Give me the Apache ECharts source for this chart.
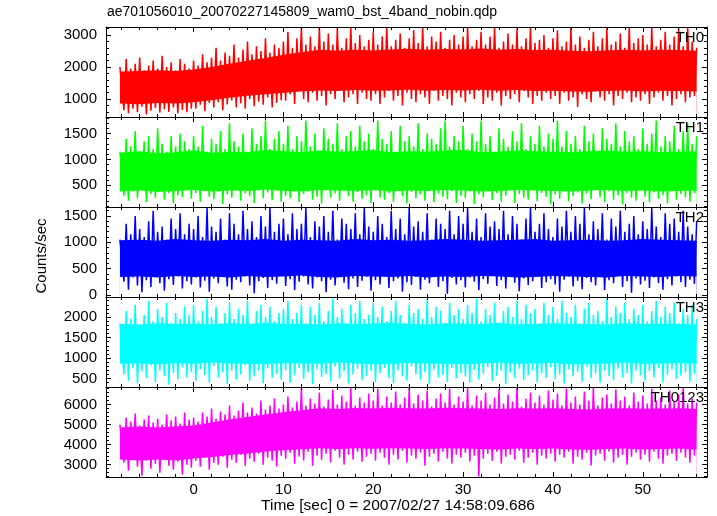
<!DOCTYPE html>
<html><head><meta charset="utf-8">
<script src="https://cdn.jsdelivr.net/npm/echarts@6/dist/echarts.min.js"></script>
<style>html,body{margin:0;padding:0;background:#fff}#c{width:717px;height:516px}</style>
</head><body><div id="c"></div>
<script>
// ---------- time grids (sec) ----------
const tCore = [-8.2,-6,-4,-2,0,2,4,6,8,10,12,14,16,18,20,22,24,26,28,30,32,34,36,38,40,42,44,46,48,50,52,54,56];
const tPeak = [-8.2,-7.5,-7,-6.5,-6,-5.5,-5,-4.5,-4,-3.5,-3,-2.5,-2,-1.5,-1,-0.5,
 0,0.5,1,1.5,2,2.5,3,3.5,4,4.5,5,5.5,6,6.5,7,7.5,8,8.5,9,9.5,
 10,10.5,11,11.5,12,12.5,13,13.5,14,14.5,15,15.5,16,16.5,17,17.5,18,18.5,19,19.5,
 20,20.5,21,21.5,22,22.5,23,23.5,24,24.5,25,25.5,26,26.5,27,27.5,28,28.5,29,29.5,
 30,30.5,31,31.5,32,32.5,33,33.5,34,34.5,35,35.5,36,36.5,37,37.5,38,38.5,39,39.5,
 40,40.5,41,41.5,42,42.5,43,43.5,44,44.5,45,45.5,46,46.5,47,47.5,48,48.5,49,49.5,
 50,50.5,51,51.5,52,52.5,53,53.5,54,54.5,55,55.5,56];
const tDip = [-7.75,-7.25,-6.75,-6.25,-5.75,-5.25,-4.75,-4.25,-3.75,-3.25,-2.75,-2.25,-1.75,-1.25,-0.75,-0.25,
 0.25,0.75,1.25,1.75,2.25,2.75,3.25,3.75,4.25,4.75,5.25,5.75,6.25,6.75,7.25,7.75,8.25,8.75,9.25,9.75,
 10.25,10.75,11.25,11.75,12.25,12.75,13.25,13.75,14.25,14.75,15.25,15.75,16.25,16.75,17.25,17.75,18.25,18.75,19.25,19.75,
 20.25,20.75,21.25,21.75,22.25,22.75,23.25,23.75,24.25,24.75,25.25,25.75,26.25,26.75,27.25,27.75,28.25,28.75,29.25,29.75,
 30.25,30.75,31.25,31.75,32.25,32.75,33.25,33.75,34.25,34.75,35.25,35.75,36.25,36.75,37.25,37.75,38.25,38.75,39.25,39.75,
 40.25,40.75,41.25,41.75,42.25,42.75,43.25,43.75,44.25,44.75,45.25,45.75,46.25,46.75,47.25,47.75,48.25,48.75,49.25,49.75,
 50.25,50.75,51.25,51.75,52.25,52.75,53.25,53.75,54.25,54.75,55.25,55.75];

// ---------- TH0 ----------
const th0CoreLo = [860,840,880,860,900,960,1040,1100,1150,1200,1240,1270,1250,1280,1260,1270,1290,1260,1280,1270,1290,1260,1280,1250,1260,1240,1230,1250,1270,1240,1260,1250,1240];
const th0CoreHi = [1860,1880,1900,1880,1920,2000,2100,2200,2280,2380,2460,2540,2510,2540,2520,2550,2570,2540,2560,2550,2580,2540,2560,2530,2540,2510,2490,2520,2540,2520,2540,2530,2510];
const th0Peak = [2000,2250,1950,2100,2300,1900,2050,2200,1950,2350,2000,2150,1900,2250,2100,1950,
 2200,2050,2400,2150,2300,2600,2200,2450,2350,2700,2300,2550,2800,2400,2650,2500,2900,2450,2700,2600,
 2800,3100,2600,2900,3250,2700,2950,2650,3250,2800,3050,2700,3200,2600,2900,3250,2750,3000,2650,2850,
 3100,2700,2950,3250,2650,2850,3050,2600,2900,3150,2750,3250,2650,2950,2800,3100,2600,2850,3000,2700,
 2950,3250,2650,2850,3100,2700,2950,3250,2600,2800,3050,2700,3200,2650,2900,3250,2750,2850,3000,2600,
 2900,3150,2650,2800,3250,2700,2950,2600,2850,3100,2650,2900,3200,2700,2800,3050,2600,3250,2750,2900,
 3000,2700,3250,2650,2850,3100,2700,2950,3200,2650,3250,2800,2600];
const th0Dip = [650,560,700,600,760,520,640,720,580,680,600,740,560,660,590,700,
 700,820,620,880,740,900,650,830,960,740,870,700,1000,780,920,820,1050,740,880,960,
 950,1150,850,1250,1000,900,1200,950,1100,800,1150,1000,1250,900,1050,1150,850,1200,1000,950,
 1150,850,1050,1250,950,1100,800,1200,1000,900,1150,1050,850,1250,950,1100,1000,800,1200,1050,
 900,1150,1000,1250,850,1050,950,1200,800,1100,1000,1150,900,1250,1050,850,1100,950,1200,1000,
 1100,850,1200,950,1050,750,1150,1000,900,1250,1050,950,1150,800,1100,1000,1200,900,1050,950,
 1150,850,1050,1200,950,1100,800,1000,1150,900,1050,1100];

// ---------- TH1 ----------
const th1CoreLo = [380,400,370,390,410,380,400,390,420,390,380,410,400,390,410,380,400,390,410,400,380,390,410,400,390,380,400,410,390,400,380,390,400];
const th1CoreHi = [1130,1160,1120,1140,1170,1130,1150,1140,1180,1160,1140,1170,1150,1160,1180,1140,1160,1150,1170,1180,1140,1150,1170,1160,1150,1140,1160,1170,1150,1160,1140,1150,1160];
const th1Peak = [1150,1400,1250,1550,1100,1350,1450,1200,1600,1300,1150,1450,1250,1500,1350,1200,
 1450,1250,1650,1150,1400,1300,1550,1200,1700,1350,1250,1500,1150,1600,1300,1450,1750,1200,1400,1550,
 1300,1650,1200,1450,1350,1750,1250,1500,1150,1600,1400,1300,1700,1200,1450,1550,1250,1650,1350,1500,
 1200,1750,1400,1300,1550,1150,1650,1350,1450,1250,1700,1200,1500,1400,1300,1600,1750,1250,1450,1350,
 1650,1200,1500,1350,1750,1300,1450,1150,1600,1400,1250,1550,1350,1700,1200,1450,1300,1650,1250,1500,
 1400,1750,1250,1550,1300,1450,1200,1650,1350,1500,1150,1600,1400,1300,1700,1250,1550,1350,1450,1200,
 1600,1300,1500,1750,1250,1450,1350,1650,1200,1550,1700,1300,1450];
const th1Dip = [300,200,380,250,420,170,330,260,400,220,350,150,310,270,420,240,
 350,180,410,280,230,380,140,320,260,430,200,340,290,160,400,250,360,210,430,180,
 300,250,420,170,330,380,220,280,150,410,260,340,200,430,290,180,370,240,310,160,
 400,260,220,350,180,430,290,150,370,250,320,200,410,170,340,280,230,390,160,300,
 250,380,140,320,270,420,210,350,180,300,400,160,330,260,220,410,190,350,280,130,
 320,240,400,190,290,360,150,340,230,410,270,170,380,220,310,130,350,260,200,400,
 280,170,360,240,310,150,390,220,330,270,180,350];

// ---------- TH2 ----------
const th2CoreLo = [340,350,330,360,340,350,330,360,340,350,370,340,330,360,350,340,360,330,350,340,360,350,330,340,360,350,340,330,360,350,340,360,350];
const th2CoreHi = [1040,1050,1030,1060,1040,1030,1050,1040,1060,1030,1050,1040,1030,1060,1040,1050,1030,1040,1060,1050,1030,1040,1050,1060,1030,1040,1050,1030,1040,1060,1050,1040,1030];
const th2Peak = [1050,1350,1150,1500,1250,1100,1400,1600,1200,1300,1050,1450,1250,1550,1150,1350,
 1250,1500,1100,1650,1300,1200,1450,1050,1550,1350,1150,1600,1250,1400,1100,1500,1300,1650,1200,1350,
 1450,1150,1550,1250,1350,1650,1100,1400,1300,1500,1200,1600,1050,1450,1350,1250,1550,1150,1650,1300,
 1200,1500,1350,1100,1600,1250,1450,1150,1650,1300,1400,1200,1550,1050,1450,1350,1250,1600,1150,1500,
 1350,1650,1200,1450,1100,1550,1300,1400,1250,1600,1150,1500,1350,1050,1450,1650,1200,1350,1550,1250,
 1100,1450,1300,1600,1200,1500,1350,1650,1150,1400,1250,1550,1050,1450,1300,1600,1200,1350,1500,1150,
 1400,1250,1650,1300,1100,1550,1350,1450,1200,1600,1300,1150,1400];
const th2Dip = [250,100,330,180,50,280,150,360,220,80,300,190,350,120,260,200,
 330,140,270,60,310,220,370,160,100,290,240,350,180,30,260,320,130,280,210,360,
 170,300,90,250,350,200,120,330,260,50,290,180,360,230,110,310,150,270,340,80,
 280,200,350,130,260,310,60,240,190,340,100,290,220,370,150,260,20,320,200,280,
 140,330,250,90,300,210,360,170,280,120,340,230,70,310,190,260,350,130,240,300,
 200,60,290,350,160,270,110,320,240,180,340,90,280,220,370,150,260,40,310,200,
 270,130,330,220,100,300,180,350,240,150,290,210];

// ---------- TH3 ----------
const th3CoreLo = [860,870,850,880,860,890,870,860,850,880,870,860,890,870,850,860,880,870,860,850,870,890,860,870,880,850,860,870,890,860,870,880,860];
const th3CoreHi = [1830,1820,1850,1830,1840,1820,1850,1830,1860,1830,1840,1820,1850,1830,1840,1860,1830,1820,1850,1840,1830,1860,1820,1830,1850,1840,1830,1820,1850,1830,1840,1830,1820];
const th3Peak = [1850,2150,1950,2300,1800,2050,2400,1900,2200,2000,2350,1850,2100,1950,2250,2050,
 2300,1900,2150,2450,2000,2250,1850,2100,2350,1950,2200,2050,2400,1800,2150,2300,2000,2250,1900,2100,
 2200,2400,1950,2100,2300,1850,2250,2050,2350,1900,2150,2450,2000,2200,1850,2300,2100,2400,1950,2050,
 2350,2000,2250,1900,2150,2400,2050,1850,2300,2100,2200,1950,2450,2000,2250,2150,1850,2350,2050,2200,
 1950,2300,2100,2450,1900,2200,2050,2350,1850,2150,2250,2000,2400,1950,2300,2100,2200,1850,2350,2050,
 2250,1950,2400,2100,2000,2300,1850,2200,2350,2050,2150,1900,2450,2000,2250,2100,2350,1950,2200,2050,
 2300,1900,2150,2400,2000,2250,2100,2350,1850,2200,2050,2300,1950];
const th3Dip = [600,450,750,380,680,520,820,420,700,560,350,640,480,780,530,660,
 450,720,580,400,800,530,650,370,700,480,600,820,440,560,690,390,750,520,620,470,
 700,400,580,760,490,650,360,720,540,610,430,790,500,680,380,600,740,460,560,690,
 420,630,760,510,380,700,560,450,800,600,480,660,370,720,530,590,420,760,500,640,
 550,400,710,480,620,780,440,570,690,360,650,510,740,460,580,700,410,630,520,770,
 490,600,380,720,550,660,430,790,510,620,400,690,560,460,740,520,640,380,700,580,
 450,680,530,760,410,600,720,490,570,650,430,620];

// ---------- TH0123 ----------
const th0123CoreLo = [3250,3200,3250,3200,3300,3380,3480,3560,3650,3720,3770,3820,3780,3820,3790,3820,3800,3780,3820,3800,3780,3760,3800,3780,3800,3760,3740,3780,3800,3760,3780,3800,3760];
const th0123CoreHi = [4850,4900,4850,4900,4950,5100,5250,5380,5500,5620,5720,5820,5780,5830,5800,5840,5820,5800,5840,5820,5800,5780,5820,5800,5820,5780,5750,5800,5820,5790,5800,5820,5780];
const th0123Peak = [5000,5350,5150,5550,4950,5250,5450,5100,5300,5000,5500,5200,5400,5050,5600,5250,
 5350,5150,5600,5400,5800,5300,5650,5500,5950,5450,5700,6100,5600,5850,5550,6200,5750,5950,6300,5800,
 6000,6400,5850,6150,6850,5950,6300,6050,6600,5900,6250,6750,6000,6450,6150,6850,5950,6350,6100,6550,
 6200,6800,5950,6400,6100,6650,6000,6350,6850,6050,6500,6200,6700,5900,6300,6550,6100,6800,6000,6400,
 6150,6850,5950,6450,6200,6600,6000,6350,6750,6050,6500,6150,6850,5900,6300,6600,6100,6450,6000,6700,
 6250,6550,5950,6800,6100,6400,6000,6650,6200,6850,5950,6350,6500,6050,6750,6200,6400,5950,6600,6150,
 6450,6050,6800,6200,6350,6000,6700,6150,6500,6850,6050,6300,6100];
const th0123Dip = [3100,2700,3300,2900,2450,3200,2800,3050,2600,3250,2950,2750,3150,2500,3000,2850,
 3200,2900,3350,2750,3100,3000,3400,2850,3250,3100,3500,2950,3300,3150,3550,3000,3350,3200,2900,3450,
 3300,3600,3050,3400,3200,3650,2950,3450,3250,3550,3100,3700,3350,3000,3500,3250,3650,3150,3400,3550,
 3200,3600,3350,3000,3500,3250,3700,3100,3450,3300,3600,2950,3400,3550,3150,3650,3300,3050,3500,3350,
 3600,3150,3450,2400,3300,3550,3200,3650,3050,3400,3500,3250,3700,3100,3350,3600,3000,3450,3300,3550,
 3150,3500,3350,3650,3050,3400,3250,3600,2950,3450,3550,3200,3650,3100,3350,3500,3000,3400,3600,3250,
 3500,3150,3650,3300,3050,3450,3550,3200,3600,3350,3100,3450];

// ---------- ticks ----------
const xMajorTicks = [0,10,20,30,40,50];
const xMinorTicks = [-8,-6,-4,-2,2,4,6,8,12,14,16,18,22,24,26,28,32,34,36,38,42,44,46,48,52,54,56];
const th0YMajor = [1000,2000,3000];
const th0YMinor = [600,800,1200,1400,1600,1800,2200,2400,2600,2800,3200];
const th1YMajor = [500,1000,1500];
const th1YMinor = [100,200,300,400,600,700,800,900,1100,1200,1300,1400,1600,1700,1800];
const th2YMajor = [0,500,1000,1500];
const th2YMinor = [100,200,300,400,600,700,800,900,1100,1200,1300,1400,1600];
const th3YMajor = [500,1000,1500,2000];
const th3YMinor = [300,400,600,700,800,900,1100,1200,1300,1400,1600,1700,1800,1900,2100,2200,2300,2400];
const th0123YMajor = [3000,4000,5000,6000];
const th0123YMinor = [2400,2600,2800,3200,3400,3600,3800,4200,4400,4600,4800,5200,5400,5600,5800,6200,6400,6600,6800];

const panelNames = ['TH0','TH1','TH2','TH3','TH0123'];
const panelColors = ['#ff0000','#00ff00','#0000ff','#00ffff','#ff00ff'];

const panels = [
  {lo:th0CoreLo, hi:th0CoreHi, pk:th0Peak, dp:th0Dip, min:440, max:3250, yMaj:th0YMajor, yMin:th0YMinor},
  {lo:th1CoreLo, hi:th1CoreHi, pk:th1Peak, dp:th1Dip, min:80, max:1820, yMaj:th1YMajor, yMin:th1YMinor},
  {lo:th2CoreLo, hi:th2CoreHi, pk:th2Peak, dp:th2Dip, min:-40, max:1670, yMaj:th2YMajor, yMin:th2YMinor},
  {lo:th3CoreLo, hi:th3CoreHi, pk:th3Peak, dp:th3Dip, min:295, max:2490, yMaj:th3YMajor, yMin:th3YMinor},
  {lo:th0123CoreLo, hi:th0123CoreHi, pk:th0123Peak, dp:th0123Dip, min:2380, max:6880, yMaj:th0123YMajor, yMin:th0123YMinor}
];

const X_MIN = -9.75, X_MAX = 57.15;
const FONT = "'Liberation Sans', Arial, Helvetica, sans-serif";
const GRID_LEFT = 106, GRID_RIGHT = 10, GRID_TOP = 27, PANEL_H = 90;
const plain = v => String(v);

const grid = [], xAxis = [], yAxis = [], series = [], graphic = [];
panels.forEach((p, i) => {
  const top = GRID_TOP + i * PANEL_H;
  grid.push({left: GRID_LEFT, right: GRID_RIGHT, top: top, height: PANEL_H, show: false});
  const isLast = i === panels.length - 1;
  const xb = {type: 'value', gridIndex: i, min: X_MIN, max: X_MAX, z: 10, splitLine: {show: false}};
  const tickStyle = {color: '#000', width: 1};
  xAxis.push(Object.assign({}, xb, {position: 'bottom',
    axisLine: {show: true, onZero: false, lineStyle: {color: '#000', width: 1}},
    axisTick: {show: true, inside: true, length: 5, customValues: xMajorTicks, lineStyle: tickStyle},
    axisLabel: {show: isLast, customValues: xMajorTicks, formatter: plain, color: '#000', fontSize: 15, fontFamily: FONT, margin: 5}}));
  xAxis.push(Object.assign({}, xb, {position: 'bottom',
    axisLine: {show: false, onZero: false},
    axisTick: {show: true, inside: true, length: 3, customValues: xMinorTicks, lineStyle: tickStyle},
    axisLabel: {show: false}}));
  xAxis.push(Object.assign({}, xb, {position: 'top',
    axisLine: {show: true, onZero: false, lineStyle: {color: '#000', width: 1}},
    axisTick: {show: true, inside: true, length: 5, customValues: xMajorTicks, lineStyle: tickStyle},
    axisLabel: {show: false}}));
  xAxis.push(Object.assign({}, xb, {position: 'top',
    axisLine: {show: false, onZero: false},
    axisTick: {show: true, inside: true, length: 3, customValues: xMinorTicks, lineStyle: tickStyle},
    axisLabel: {show: false}}));
  const yb = {type: 'value', gridIndex: i, min: p.min, max: p.max, z: 10, splitLine: {show: false}};
  yAxis.push(Object.assign({}, yb, {position: 'left',
    axisLine: {show: true, onZero: false, lineStyle: {color: '#000', width: 1}},
    axisTick: {show: true, inside: true, length: 5, customValues: p.yMaj, lineStyle: tickStyle},
    axisLabel: {show: true, customValues: p.yMaj, formatter: plain, color: '#000', fontSize: 15, fontFamily: FONT, margin: 9}}));
  yAxis.push(Object.assign({}, yb, {position: 'left',
    axisLine: {show: false, onZero: false},
    axisTick: {show: true, inside: true, length: 3, customValues: p.yMin, lineStyle: tickStyle},
    axisLabel: {show: false}}));
  yAxis.push(Object.assign({}, yb, {position: 'right',
    axisLine: {show: true, onZero: false, lineStyle: {color: '#000', width: 1}},
    axisTick: {show: true, inside: true, length: 5, customValues: p.yMaj, lineStyle: tickStyle},
    axisLabel: {show: false}}));
  yAxis.push(Object.assign({}, yb, {position: 'right',
    axisLine: {show: false, onZero: false},
    axisTick: {show: true, inside: true, length: 3, customValues: p.yMin, lineStyle: tickStyle},
    axisLabel: {show: false}}));

  const xi = i * 4, yi = i * 4;
  const color = panelColors[i];
  // dense core: filled up to upper envelope, then cleared below lower envelope
  series.push({type: 'line', xAxisIndex: xi, yAxisIndex: yi, z: 2, silent: true, showSymbol: false,
    data: tCore.map((t, k) => [t, p.hi[k]]),
    lineStyle: {width: 0, color: color}, areaStyle: {color: color, opacity: 1, origin: 'start'}});
  series.push({type: 'line', xAxisIndex: xi, yAxisIndex: yi, z: 3, silent: true, showSymbol: false,
    data: tCore.map((t, k) => [t, p.lo[k]]),
    lineStyle: {width: 0, color: '#fff'}, areaStyle: {color: '#fff', opacity: 1, origin: 'start'}});
  // spikes: peaks and dips in time order
  const spk = [];
  tPeak.forEach((t, k) => {
    spk.push([t, p.pk[k]]);
    if (k < tDip.length) spk.push([tDip[k], p.dp[k]]);
  });
  series.push({type: 'line', xAxisIndex: xi, yAxisIndex: yi, z: 4, silent: true, showSymbol: false,
    data: spk, lineStyle: {width: 1.5, color: color}});

  graphic.push({type: 'text', right: 717 - 704, top: top + 3, z: 20,
    style: {text: panelNames[i], fill: '#000', font: '15px ' + FONT}});
});

graphic.push({type: 'text', left: 107, top: 5, z: 20,
  style: {text: 'ae701056010_20070227145809_wam0_bst_4band_nobin.qdp', fill: '#000', font: '14px ' + FONT}});
graphic.push({type: 'text', x: 42, y: 256, rotation: Math.PI / 2, z: 20,
  style: {text: 'Counts/sec', fill: '#000', font: '15px ' + FONT, align: 'center', verticalAlign: 'middle'}});
graphic.push({type: 'text', x: 398, y: 506, z: 20,
  style: {text: 'Time [sec] 0 = 2007/02/27 14:58:09.686', fill: '#000', font: '15.5px ' + FONT, align: 'center', verticalAlign: 'middle'}});

const chart = echarts.init(document.getElementById('c'), null, {renderer: 'canvas'});
chart.setOption({animation: false, backgroundColor: '#fff', grid, xAxis, yAxis, series, graphic});
</script></body></html>
